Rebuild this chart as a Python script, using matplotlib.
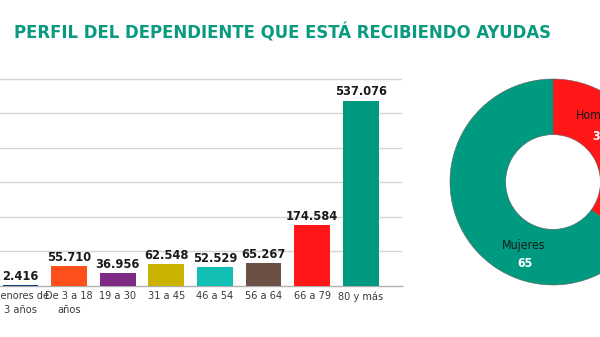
import matplotlib
matplotlib.use("Agg")
import matplotlib.pyplot as plt
from matplotlib import font_manager as fm
import numpy as np

# ---- data ----
title = "PERFIL DEL DEPENDIENTE QUE ESTÁ RECIBIENDO AYUDAS"
categories = ["Menores de\n3 años", "De 3 a 18\naños", "19 a 30", "31 a 45",
              "46 a 54", "56 a 64", "66 a 79", "80 y más"]
values = [2416, 55710, 36956, 62548, 52529, 65267, 174584, 537076]
value_labels = ["2.416", "55.710", "36.956", "62.548", "52.529", "65.267", "174.584", "537.076"]
bar_colors = ["#0b3a7c", "#ff4f1a", "#7d2a84", "#c9b200", "#12bfb4", "#6a5045", "#ff1616", "#009a80"]

sex_labels = ["Hombres", "Mujeres"]
sex_values = [35, 65]
sex_colors = ["#ff1616", "#009a80"]

# ---- pick a condensed font if one is installed ----
def _w(f):
    w = f.weight
    if isinstance(w, str):
        w = {"normal": 400, "regular": 400, "bold": 700, "book": 400}.get(w.lower(), 400)
    return w

cond = [f for f in fm.fontManager.ttflist
        if (str(f.stretch) in ("condensed", "semi-condensed", "extra-condensed")
            or "Condensed" in f.name or "Narrow" in f.name)
        and f.style == "normal"]
reg = [f for f in cond if _w(f) == 400]
bold = [f for f in cond if _w(f) == 700]
if reg and bold:
    FP_REG = fm.FontProperties(fname=reg[0].fname)
    FP_BOLD = fm.FontProperties(fname=bold[0].fname)
    CONDENSED = True
else:
    FP_REG = fm.FontProperties(family="Roboto")
    FP_BOLD = fm.FontProperties(family="Roboto", weight="bold")
    CONDENSED = False

def fp(base, size):
    p = base.copy()
    p.set_size(size)
    return p

W, H = 600, 337
fig = plt.figure(figsize=(6, 3.37), dpi=100)
fig.patch.set_facecolor("white")

# title
fig.text(14 / W, 1 - 33 / H, title, ha="left", va="center",
         fontproperties=fp(FP_BOLD, 13.2 if CONDENSED else 12.5), color="#0a9a80")

# ---- bar chart ----
x0_px, step_px = 20.5, 48.6
xl, xr = -0.84, 7.84
left_px = x0_px + xl * step_px
right_px = x0_px + xr * step_px
base_px = 285.5
ymax = 610000
px_per_unit = 185.0 / 537076
top_px = base_px - ymax * px_per_unit
ax = fig.add_axes([left_px / W, (H - base_px) / H, (right_px - left_px) / W, (base_px - top_px) / H])
x = np.arange(len(values))
ax.bar(x, values, width=0.74, color=bar_colors, zorder=3)
ax.set_xlim(xl, xr)
ax.set_ylim(0, ymax)
ax.set_yticks(np.arange(100000, 600001, 100000))
ax.yaxis.grid(True, color="#d4d4d4", linewidth=1.0, zorder=0)
ax.tick_params(axis="y", length=0, labelleft=False)
ax.tick_params(axis="x", length=0, pad=4)
ax.set_xticks(x)
ax.set_xticklabels(categories, color="#3a3a3a", linespacing=1.55,
                   fontproperties=fp(FP_REG, 7.8))
for s in ["top", "right", "left"]:
    ax.spines[s].set_visible(False)
ax.spines["bottom"].set_color("#b0b0b0")
ax.spines["bottom"].set_linewidth(1.0)
for xi, v, lab in zip(x, values, value_labels):
    ax.annotate(lab, (xi, v), xytext=(0, 1.5), textcoords="offset points",
                ha="center", va="bottom", color="#1a1a1a",
                fontproperties=fp(FP_BOLD, 9.2 if CONDENSED else 9))

# ---- donut ----
cx, cy, r = 553, 182, 103
axp = fig.add_axes([(cx - r) / W, (H - cy - r) / H, 2 * r / W, 2 * r / H])
axp.pie(sex_values, colors=sex_colors, startangle=90, counterclock=False, radius=1,
        wedgeprops=dict(width=0.54, edgecolor="#606060", linewidth=0.4))
axp.set_xlim(-1, 1)
axp.set_ylim(-1, 1)
axp.set_aspect("equal")
axp.axis("off")
lsize = 8.8
axp.text(0.46, 0.65, sex_labels[0], ha="center", va="center", color="#1a1a1a", fontproperties=fp(FP_REG, lsize))
axp.text(0.46, 0.44, str(sex_values[0]), ha="center", va="center", color="white", fontproperties=fp(FP_BOLD, lsize))
axp.text(-0.28, -0.62, sex_labels[1], ha="center", va="center", color="#1a1a1a", fontproperties=fp(FP_REG, lsize))
axp.text(-0.27, -0.79, str(sex_values[1]), ha="center", va="center", color="white", fontproperties=fp(FP_BOLD, lsize))

fig.savefig("out.png", dpi=100, facecolor="white")
